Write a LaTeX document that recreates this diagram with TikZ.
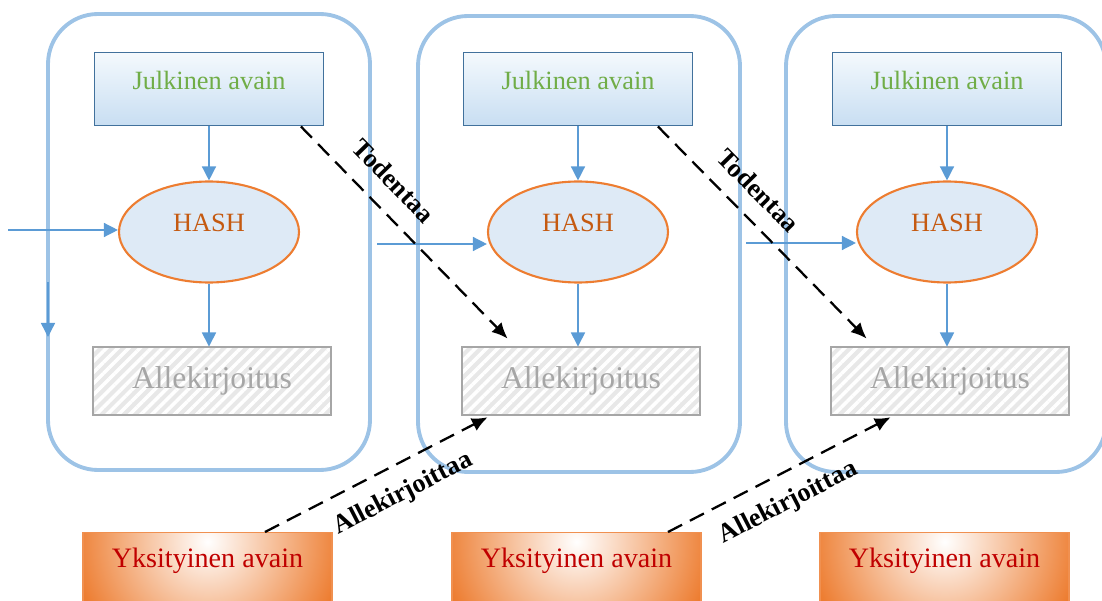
\documentclass[tikz,border=0pt]{standalone}
\usepackage{fontspec}
\setmainfont{Liberation Serif}
\usepackage{tikz}
\usetikzlibrary{arrows.meta,positioning,shapes.geometric,patterns.meta}

\definecolor{frameblue}{RGB}{157,195,230}
\definecolor{arrowblue}{RGB}{91,155,213}
\definecolor{keyborder}{RGB}{65,113,156}
\definecolor{keygreen}{RGB}{112,173,71}
\definecolor{hashfill}{RGB}{222,234,246}
\definecolor{hashorange}{RGB}{237,125,49}
\definecolor{hashtext}{RGB}{197,90,17}
\definecolor{sigline}{RGB}{166,166,166}
\definecolor{privorange}{RGB}{237,125,49}
\definecolor{privred}{RGB}{192,0,0}

\begin{document}
\begin{tikzpicture}[
  block/.style={
    draw=frameblue,
    line width=2.2pt,
    rounded corners=1cm
  },
  pubkey/.style={
    draw=keyborder,
    line width=1pt,
    top color={rgb,255:red,244;green,249;blue,253},
    middle color={rgb,255:red,176;green,207;blue,236},
    bottom color={rgb,255:red,200;green,222;blue,242},
    minimum width=4.58cm,
    minimum height=1.46cm,
    text=keygreen,
    text height=9pt,
    text depth=9pt,
    font=\fontsize{15}{18}\selectfont
  },
  hashnode/.style={
    ellipse,
    draw=hashorange,
    line width=1.2pt,
    fill=hashfill,
    minimum width=3.6cm,
    minimum height=2.02cm,
    text=hashtext,
    text height=9pt,
    text depth=9pt,
    font=\fontsize{15}{18}\selectfont
  },
  sigbox/.style={
    fill=black!9,
    postaction={pattern={Lines[angle=45,distance=4.5pt,line width=2pt]}, pattern color=white},
    postaction={draw=sigline, line width=1.4pt},
    minimum width=4.76cm,
    minimum height=1.36cm,
    text=sigline,
    font=\fontsize{18}{21}\selectfont
  },
  privkey/.style={
    draw=privorange!85,
    line width=0.8pt,
    fill=privorange,
    path picture={
      \shade[inner color=white, outer color=privorange]
        ([yshift=-0.18cm]path picture bounding box.north) circle (2.7cm);
    },
    anchor=north,
    minimum width=4.98cm,
    minimum height=1.4cm,
    text=privred,
    text height=9pt,
    text depth=9pt,
    font=\fontsize{16}{19}\selectfont
  },
  flow/.style={
    -{Triangle[length=8pt,width=8pt]},
    draw=arrowblue,
    line width=0.8pt
  },
  signs/.style={
    -{Latex[length=9pt,width=8pt]},
    draw=black,
    line width=1.3pt,
    dash pattern=on 9pt off 5pt
  },
  tag/.style={
    sloped,
    font=\bfseries\fontsize{15}{17}\selectfont
  }
]
\useasboundingbox (0,0) rectangle (22.04,12);
\clip (0,0) rectangle (22.04,12);

% Block frames
\draw[block] (0.96,2.60) rectangle (7.40,11.72);
\draw[block] (8.36,2.56) rectangle (14.80,11.68);
\draw[block] (15.72,2.56) rectangle (22.12,11.68);

% First block
\node[hashnode] (h1) at (4.18,7.36) {HASH};
\node[pubkey, above=1.08cm of h1] (j1) {Julkinen avain};
\node[sigbox, below=1.26cm of h1, xshift=0.06cm] (s1) {Allekirjoitus};

% Second block
\node[hashnode] (h2) at (11.56,7.36) {HASH};
\node[pubkey, above=1.08cm of h2] (j2) {Julkinen avain};
\node[sigbox, below=1.26cm of h2, xshift=0.06cm] (s2) {Allekirjoitus};

% Third block
\node[hashnode] (h3) at (18.94,7.36) {HASH};
\node[pubkey, above=1.08cm of h3] (j3) {Julkinen avain};
\node[sigbox, below=1.26cm of h3, xshift=0.06cm] (s3) {Allekirjoitus};

% Private keys
\node[privkey] (y1) at (4.15,1.36) {Yksityinen avain};
\node[privkey] (y2) at (11.53,1.36) {Yksityinen avain};
\node[privkey] (y3) at (18.89,1.36) {Yksityinen avain};

% Loose ends
\coordinate (in1) at (0.16,7.40);
\coordinate (in2) at (7.54,7.12);
\coordinate (in3) at (14.92,7.14);
\coordinate (dn1) at (0.96,6.36);
\coordinate (dn2) at (0.96,5.26);

\draw[flow] (j1) -- (h1);
\draw[flow] (h1) -- (h1 |- s1.north);
\draw[flow] (j2) -- (h2);
\draw[flow] (h2) -- (h2 |- s2.north);
\draw[flow] (j3) -- (h3);
\draw[flow] (h3) -- (h3 |- s3.north);
\draw[flow] (in1) -- (in1 -| h1.west);
\draw[flow] (in2) -- (in2 -| h2.west);
\draw[flow] (in3) -- (in3 -| h3.west);
\draw[flow] (dn1) -- (dn2);

% Verify and sign links
\draw[signs] ([xshift=-0.47cm]j1.south east) -- node[tag, pos=0.35, above=7pt] {Todentaa} ([xshift=0.92cm,yshift=0.16cm]s2.north west);
\draw[signs] ([xshift=-0.71cm]j2.south east) -- node[tag, pos=0.39, above=6pt] {Todentaa} ([xshift=0.72cm,yshift=0.16cm]s3.north west);
\draw[signs] ([xshift=1.15cm]y1.north) -- node[tag, pos=0.56, below=6pt] {Allekirjoittaa} ([xshift=0.52cm,yshift=-0.04cm]s2.south west);
\draw[signs] ([xshift=1.83cm]y2.north) -- node[tag, pos=0.48, below=6pt] {Allekirjoittaa} ([xshift=1.20cm,yshift=-0.04cm]s3.south west);

\end{tikzpicture}
\end{document}
